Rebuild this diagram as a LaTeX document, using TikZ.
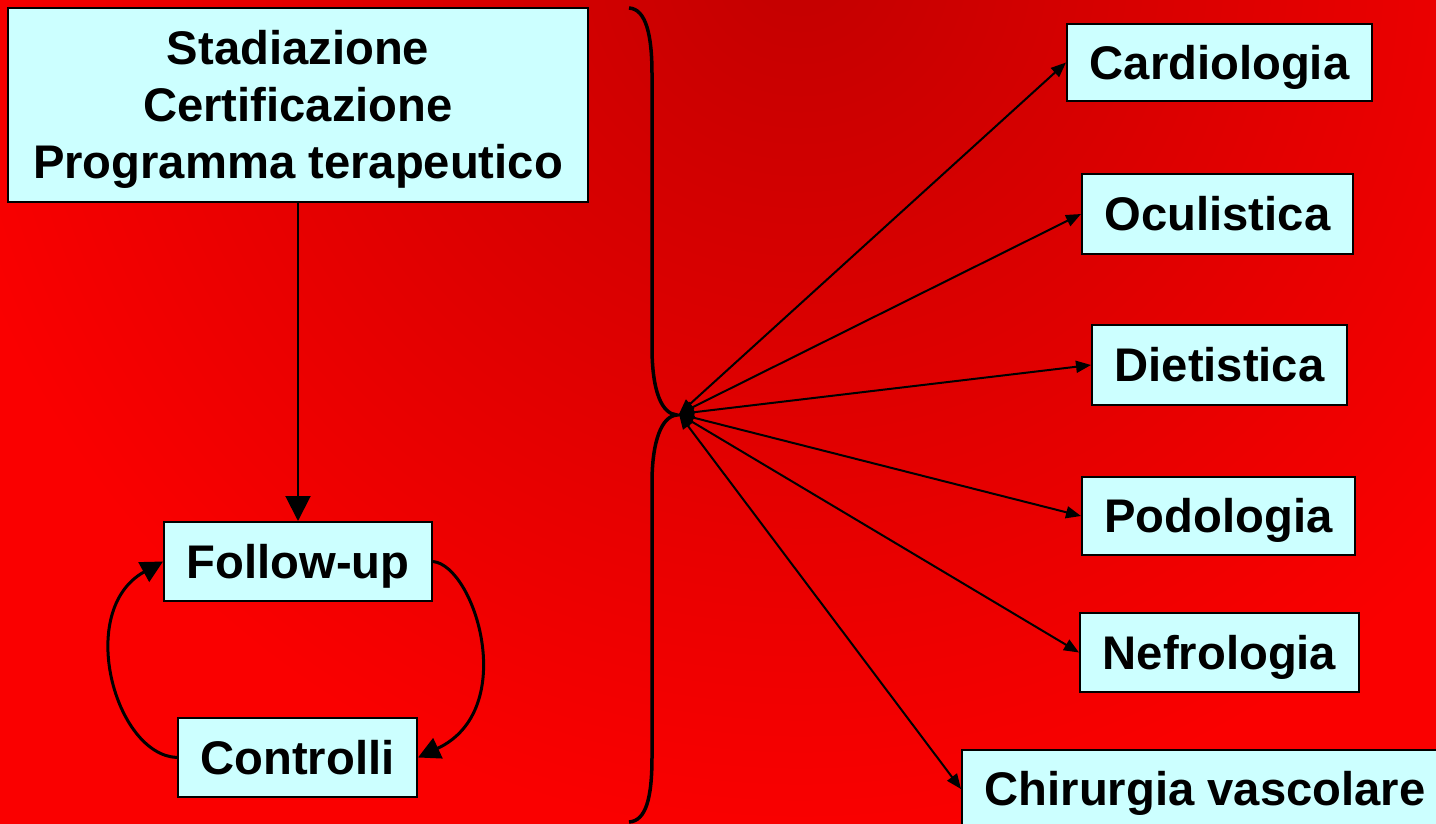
\documentclass[tikz,border=0pt]{standalone}
\usepackage{fontspec}
\setmainfont{Liberation Sans}
\usetikzlibrary{arrows.meta}
\definecolor{bgdark}{RGB}{195,0,0}
\definecolor{bgbright}{RGB}{250,0,0}
\definecolor{boxfill}{RGB}{204,255,255}
\begin{document}
\begin{tikzpicture}[x=0.5pt,y=-0.5pt,
  box/.style={draw=black, line width=1pt, fill=boxfill, inner sep=0pt,
    font=\bfseries\fontsize{23.6}{28.5}\selectfont, text height=16.9pt, text depth=0pt},
  hubarrow/.style={line width=1pt, arrows={Triangle[length=7.5pt,width=6pt]-Triangle[length=7.5pt,width=6pt]}},
  downarrow/.style={line width=1pt, arrows={-Triangle[length=12.5pt,width=12.5pt]}},
  looparrow/.style={line width=1.5pt, arrows={-Triangle[length=11pt,width=11pt]}},
  bracestyle/.style={line width=1.75pt}
]
\useasboundingbox (0,0) rectangle (1436,824);
\begin{scope}
  \clip (0,0) rectangle (1436,824);
  \fill[bgbright] (0,0) rectangle (1436,824);
  \shade[inner color=bgdark, outer color=bgbright] (800,-40) circle (440pt);
\end{scope}

% left boxes
\node[box, minimum width=290pt, minimum height=97pt, align=center, text height=73.9pt] (top) at (298,105)
  {Stadiazione\\Certificazione\\Programma terapeutico};
\node[box, minimum width=134pt, minimum height=39.5pt] (fu) at (298,561.5) {Follow-up};
\node[box, minimum width=119.5pt, minimum height=39.5pt] (ct) at (297.5,757.5) {Controlli};

% right boxes
\node[box, minimum width=152.5pt, minimum height=38.5pt] (card) at (1219.5,62.5) {Cardiologia};
\node[box, minimum width=135.5pt, minimum height=40pt] (ocu) at (1217.5,214) {Oculistica};
\node[box, minimum width=127.5pt, minimum height=40pt] (diet) at (1219.5,365) {Dietistica};
\node[box, minimum width=136.5pt, minimum height=39pt] (podo) at (1218.5,516) {Podologia};
\node[box, minimum width=139.5pt, minimum height=39.5pt] (nefro) at (1219.5,652.5) {Nefrologia};
\node[box, minimum width=243pt, minimum height=39pt] (chir) at (1205,789) {Chirurgia vascolare};

% brace
\draw[bracestyle] (629,8) .. controls (646,9) and (652,35) .. (652,74)
  -- (652,347) .. controls (652,392) and (662,414) .. (677,415)
  .. controls (662,416) and (652,440) .. (652,483)
  -- (652,757) .. controls (652,798) and (646,821) .. (629,822);

\coordinate (hub) at (679,414);
\draw[hubarrow] (hub) -- (card.west);
\draw[hubarrow] (hub) -- (ocu.west);
\draw[hubarrow] (hub) -- (diet.west);
\draw[hubarrow] (hub) -- (podo.west);
\draw[hubarrow] (hub) -- (nefro.west);
\draw[hubarrow] (hub) -- (chir.west);

% left connectors
\draw[downarrow] (top.south) -- (fu.north);
\draw[looparrow] (fu.east) .. controls (475,566) and (520,710) .. (ct.east);
\draw[looparrow] (ct.west) .. controls (115,755) and (75,610) .. (fu.west);
\end{tikzpicture}
\end{document}
